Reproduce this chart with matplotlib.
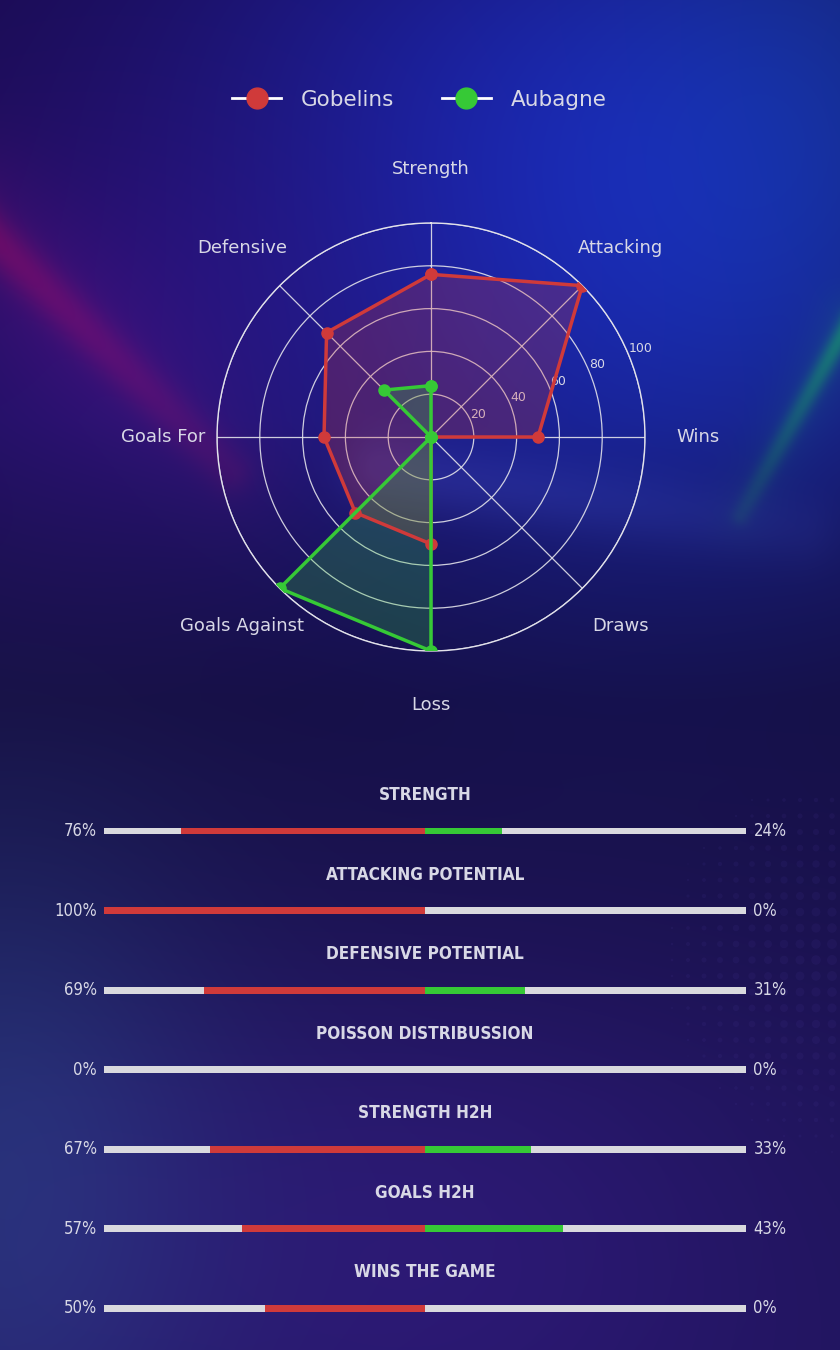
import numpy as np
import matplotlib
matplotlib.use('Agg')
import matplotlib.pyplot as plt
from matplotlib.lines import Line2D

# data
teams = ['Gobelins', 'Aubagne']
categories = ['Strength', 'Attacking', 'Wins', 'Draws', 'Loss',
              'Goals Against', 'Goals For', 'Defensive']
gobelins_vals = [76, 100, 50, 0, 50, 50, 50, 69]
aubagne_vals = [24, 0, 0, 0, 100, 100, 0, 31]

bar_titles = ['STRENGTH', 'ATTACKING POTENTIAL', 'DEFENSIVE POTENTIAL',
              'POISSON DISTRIBUSSION', 'STRENGTH H2H', 'GOALS H2H', 'WINS THE GAME']
left_pct = [76, 100, 69, 0, 67, 57, 50]
right_pct = [24, 0, 31, 0, 33, 43, 0]

RED = '#d03a3a'
GREEN = '#36c936'
TXT = '#d8d8e6'
GRID = '#e2e2ea'

W, H = 840, 1350
fig = plt.figure(figsize=(W / 100, H / 100), dpi=100)

# ---- background (gradient + glows) ----
yy, xx = np.mgrid[0:H, 0:W].astype(float)
stops_y = [0, 420, 700, 780, 1100, 1350]
stops_c = np.array([[26, 10, 76], [24, 16, 82], [21, 14, 64], [23, 16, 70],
                    [30, 20, 88], [32, 20, 92]]) / 255.0
img = np.zeros((H, W, 3))
for c in range(3):
    img[:, :, c] = np.interp(yy, stops_y, stops_c[:, c])


def blob(cx, cy, sx, sy, col, k=1.0):
    g = np.exp(-(((xx - cx) / sx) ** 2 + ((yy - cy) / sy) ** 2) / 2.0)
    return g[:, :, None] * np.array(col)[None, None, :] * k


def streak(x0, y0, x1, y1, sig, col, k=1.0, fade=0.6):
    dx, dy = x1 - x0, y1 - y0
    t = np.clip(((xx - x0) * dx + (yy - y0) * dy) / (dx * dx + dy * dy), 0, 1)
    d2 = (xx - (x0 + t * dx)) ** 2 + (yy - (y0 + t * dy)) ** 2
    g = np.exp(-d2 / (2 * sig ** 2)) * (1 - fade * t)
    return g[:, :, None] * np.array(col)[None, None, :] * k


img += blob(610, 240, 250, 240, [0.01, 0.08, 0.33])
img += blob(420, 0, 260, 150, [0.0, 0.03, 0.1])
img += blob(840, 60, 190, 260, [-0.02, 0.09, 0.1])
img += blob(90, 340, 190, 170, [0.07, 0.0, 0.1])
img += streak(-30, 215, 230, 470, 50, [0.07, 0.0, 0.02])
img += streak(-30, 215, 230, 470, 16, [0.2, -0.01, -0.02])
img += streak(850, 320, 740, 515, 7, [0.0, 0.33, -0.12], 0.8, 0.75)
img += streak(850, 320, 740, 515, 22, [0.0, 0.08, -0.02], 0.8, 0.75)
img += streak(380, 470, 800, 530, 26, [0.05, 0.06, 0.09])
img += blob(0, 1180, 150, 260, [0.03, 0.11, 0.11])
img += blob(420, 1240, 250, 190, [0.05, 0.02, 0.1])
img = np.clip(img, 0, 1)

bg = fig.add_axes([0, 0, 1, 1])
bg.imshow(img, extent=(0, W, H, 0), aspect='auto')
# faint halftone dots, bottom right
gx, gy = np.meshgrid(np.arange(640, 850, 16), np.arange(800, 1160, 16))
dd = np.hypot(gx - 860, gy - 960)
sz = np.clip(60 - dd * 0.3, 0, None)
bg.scatter(gx.ravel(), gy.ravel(), s=sz.ravel(), color='#4a3a9a', alpha=0.12, lw=0)
bg.set_xlim(0, W)
bg.set_ylim(H, 0)
bg.axis('off')

# ---- radar ----
ax = fig.add_axes([217 / W, 1 - 651 / H, 428 / W, 428 / H], polar=True)
ax.set_facecolor('none')
ax.set_theta_offset(np.pi / 2)
ax.set_theta_direction(-1)
angles = np.linspace(0, 2 * np.pi, len(categories), endpoint=False)
th = np.concatenate([angles, angles[:1]])

for vals, col in [(gobelins_vals, RED), (aubagne_vals, GREEN)]:
    v = np.concatenate([vals, vals[:1]])
    ax.plot(th, v, color=col, lw=2.5, marker='o', ms=8, zorder=3)
    ax.fill(th, v, color=col, alpha=0.25, zorder=2)

ax.set_ylim(0, 100)
ax.set_yticks([20, 40, 60, 80, 100])
ax.set_yticklabels(['20', '40', '60', '80', '100'], fontsize=9, color=TXT)
ax.set_rlabel_position(67.5)
ax.set_xticks(angles)
ax.set_xticklabels([])
ax.grid(color=GRID, lw=0.9, alpha=0.9)
ax.spines['polar'].set_color(GRID)
ax.spines['polar'].set_linewidth(1.0)
for a, lab in zip(angles, categories):
    ax.text(a, 125, lab, ha='center', va='center', fontsize=13, color=TXT)

handles = [Line2D([0], [0], color='white', lw=2, marker='o', ms=15, mfc=c, mec=c)
           for c in (RED, GREEN)]
fig.legend(handles, teams, loc='center', bbox_to_anchor=(0.499, 1 - 100 / H),
           ncol=2, frameon=False, fontsize=15.5, labelcolor=TXT,
           handlelength=2.3, handletextpad=0.9, columnspacing=2.2)

# ---- comparison bars ----
ax2 = fig.add_axes([104 / W, 10 / H, 642 / W, 570 / H])
ax2.set_facecolor('none')
ax2.set_xlim(-100, 100)
ax2.set_ylim(6.4, -0.767)
ax2.axis('off')
bh = 0.088
for i, (t, lp, rp) in enumerate(zip(bar_titles, left_pct, right_pct)):
    ax2.barh(i, 200, left=-100, height=bh, color='#d9d9de', lw=0)
    ax2.barh(i, -lp, left=0, height=bh, color=RED, lw=0)
    ax2.barh(i, rp, left=0, height=bh, color=GREEN, lw=0)
    ax2.text(0, i - 0.453, t, ha='center', va='center', fontsize=12.3,
             fontweight='bold', color=TXT, family='DejaVu Sans', fontstretch='condensed')
    ax2.text(-102.2, i, f'{lp}%', ha='right', va='center', fontsize=12,
             color=TXT, family='DejaVu Sans', fontstretch='condensed')
    ax2.text(102.3, i, f'{rp}%', ha='left', va='center', fontsize=12,
             color=TXT, family='DejaVu Sans', fontstretch='condensed')

fig.savefig('out.png', dpi=100)
